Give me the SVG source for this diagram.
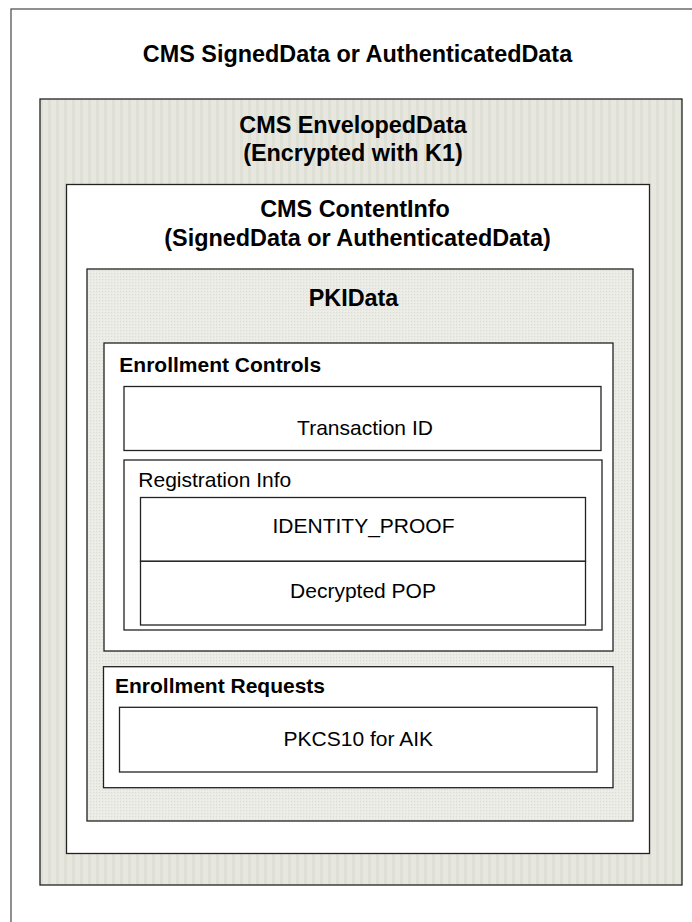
<svg xmlns="http://www.w3.org/2000/svg" width="692" height="922" viewBox="0 0 692 922">
<style>
.box{stroke:#222;stroke-width:1.3}
.w{fill:#fff}
.h{font-family:"Liberation Sans",Arial,sans-serif;font-weight:bold;font-size:23.4px;fill:#000;text-anchor:middle}
.hb{font-family:"Liberation Sans",Arial,sans-serif;font-weight:bold;font-size:21px;fill:#000}
.t{font-family:"Liberation Sans",Arial,sans-serif;font-size:21px;fill:#000}
.m{text-anchor:middle}
</style>
<defs>
<pattern id="stripes" width="8" height="8" patternUnits="userSpaceOnUse">
<rect width="8" height="8" fill="#e7e7df"/>
<rect width="3" height="8" fill="#dedfd5"/>
</pattern>
<pattern id="stipple" width="3" height="3" patternUnits="userSpaceOnUse">
<rect width="3" height="3" fill="#ebebe6"/>
<rect width="1" height="1" fill="#dcdcd5"/>
<rect x="2" y="2" width="1" height="1" fill="#f2f2ee"/>
</pattern>
</defs>
<rect width="692" height="922" fill="#fff"/>
<g id="outer">
<rect x="11" y="9" width="700" height="930" fill="none" stroke="#555" stroke-width="1.3"/>
<text class="h" x="357.5" y="62">CMS SignedData or AuthenticatedData</text>
</g>
<g id="enveloped">
<rect class="box" x="40" y="99" width="642" height="786" fill="url(#stripes)"/>
<text class="h" x="353" y="133">CMS EnvelopedData</text>
<text class="h" x="353" y="161">(Encrypted with K1)</text>
</g>
<g id="contentinfo">
<rect class="box w" x="66.5" y="184.5" width="583" height="669"/>
<text class="h" x="355" y="217">CMS ContentInfo</text>
<text class="h" x="357.5" y="245.5">(SignedData or AuthenticatedData)</text>
</g>
<g id="pkidata">
<rect class="box" x="87" y="269" width="546" height="552" fill="url(#stipple)"/>
<text class="h" x="353.5" y="306">PKIData</text>
</g>
<g id="enrollment-controls">
<rect class="box w" x="104" y="343" width="509" height="308"/>
<text class="hb" x="119.3" y="371.5">Enrollment Controls</text>
</g>
<g id="transaction-id">
<rect class="box w" x="124" y="386.5" width="477" height="64"/>
<text class="t m" x="365" y="435">Transaction ID</text>
</g>
<g id="registration-info">
<rect class="box w" x="124" y="460" width="478" height="170"/>
<text class="t" x="138.3" y="486.5">Registration Info</text>
</g>
<g id="identity-proof">
<rect class="box w" x="140.5" y="497.5" width="445" height="63.8"/>
<text class="t m" x="363.5" y="533.3">IDENTITY_PROOF</text>
</g>
<g id="decrypted-pop">
<rect class="box w" x="140.5" y="561.3" width="445" height="63.7"/>
<text class="t m" x="363" y="598.3">Decrypted POP</text>
</g>
<g id="enrollment-requests">
<rect class="box w" x="103.5" y="666.7" width="509.5" height="121"/>
<text class="hb" x="115" y="692.7">Enrollment Requests</text>
</g>
<g id="pkcs10">
<rect class="box w" x="119.5" y="707.3" width="477.5" height="64.7"/>
<text class="t m" x="358.3" y="746">PKCS10 for AIK</text>
</g>
<g id="connectors"/>
</svg>
